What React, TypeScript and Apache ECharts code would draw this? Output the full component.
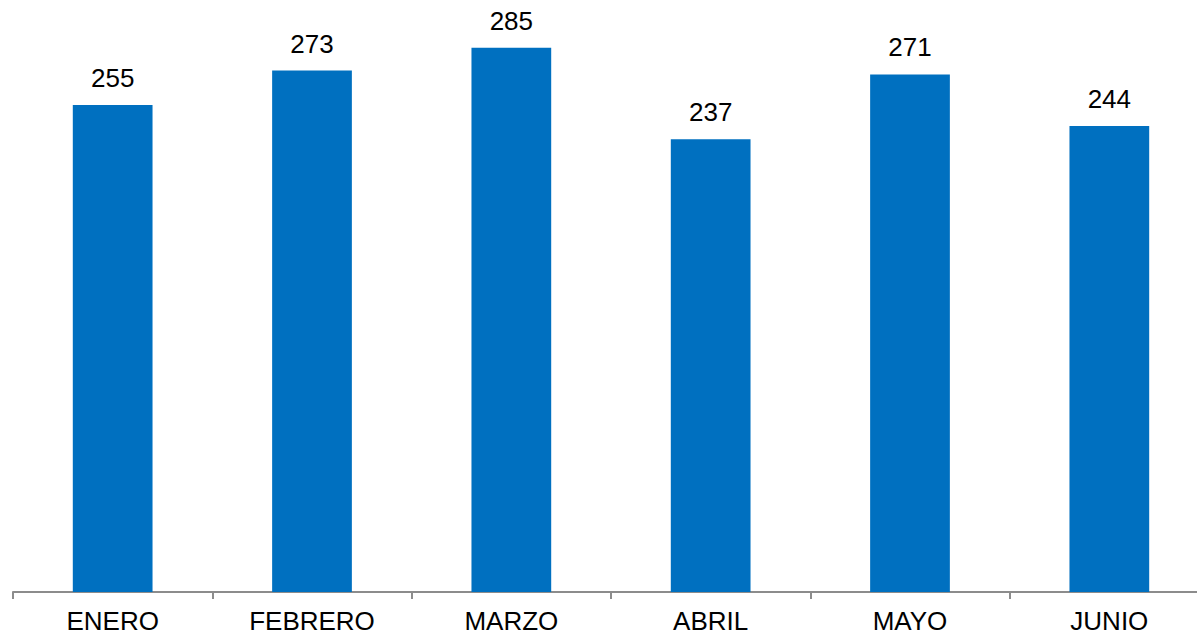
import React, { useEffect, useRef } from "react";
import * as echarts from "echarts";

const categories = ["ENERO", "FEBRERO", "MARZO", "ABRIL", "MAYO", "JUNIO"];
const values = [255, 273, 285, 237, 271, 244];

export default function App() {
  const ref = useRef<HTMLDivElement>(null);
  useEffect(() => {
    if (!ref.current) return;
    const chart = echarts.init(ref.current, null, { renderer: "svg" });
    chart.setOption({
      animation: false,
      backgroundColor: "#ffffff",
      grid: { left: 13, top: 19, width: 1196, height: 573, outerBoundsMode: "none", containLabel: false },
      xAxis: {
        type: "category",
        data: categories,
        axisLine: { show: true, lineStyle: { color: "#8c8c8c", width: 2 } },
        axisTick: { show: true, length: 7, alignWithLabel: false, lineStyle: { color: "#8c8c8c", width: 2 } },
        axisLabel: {
          color: "#000000",
          fontFamily: "Liberation Sans, Arial, sans-serif",
          fontSize: 26,
          margin: 16,
          interval: 0,
        },
      },
      yAxis: {
        type: "value",
        min: 0,
        max: 300,
        show: false,
        splitLine: { show: false },
      },
      series: [
        {
          type: "bar",
          data: values,
          barWidth: "40%",
          itemStyle: { color: "#0070C0" },
          label: {
            show: true,
            position: "top",
            distance: 14,
            color: "#000000",
            fontFamily: "Liberation Sans, Arial, sans-serif",
            fontSize: 26,
          },
        },
      ],
    });
    return () => chart.dispose();
  }, []);
  return (
    <div style={{ position: "absolute", left: 0, top: 0, width: 1197, height: 638, overflow: "hidden", background: "#fff" }}>
      <div ref={ref} style={{ width: 1230, height: 638 }} />
    </div>
  );
}
